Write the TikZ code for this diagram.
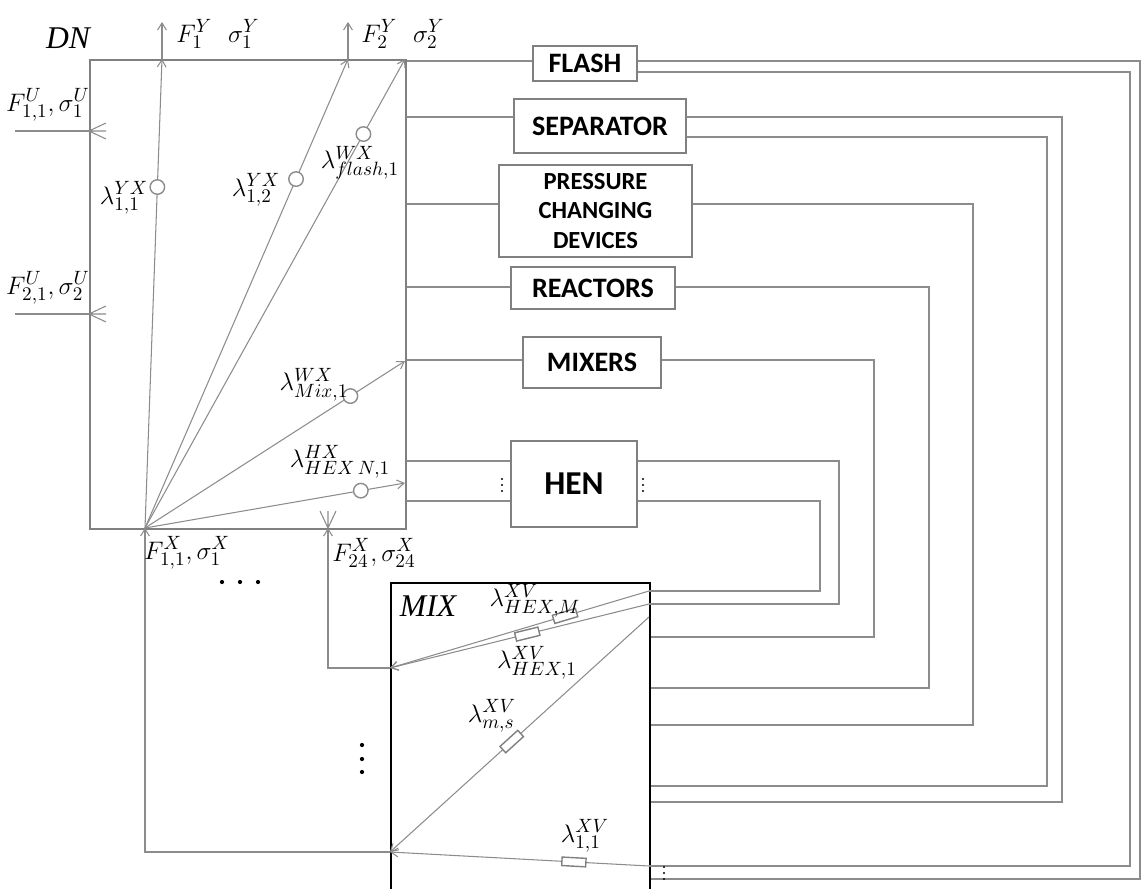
\documentclass[tikz,border=0pt]{standalone}
\usepackage{fontspec}
\setsansfont{Carlito}
\newfontfamily\timesfont{Liberation Serif}
\usepackage{tikz}
\usetikzlibrary{arrows.meta}
\definecolor{linegray}{HTML}{8C8C8C}
\definecolor{boxgray}{HTML}{808080}

\tikzset{
  crowfoot/.pic={\draw[flow] (0,0) -- (17,-8) (0,0) -- (17,0) (0,0) -- (17,8);}
}

\begin{document}
\begin{tikzpicture}[
  x=0.02cm, y=-0.02cm,
  flow/.style={draw=linegray, line width=0.6pt},
  arr/.style={flow, -{Straight Barb[length=4pt, width=5pt]}},
  unit/.style={rectangle, draw=boxgray, line width=1.1pt, inner sep=0pt, font=\sffamily\bfseries\fontsize{16}{19}\selectfont, align=center},
  valve/.style={circle, draw=linegray, fill=white, line width=0.8pt, inner sep=0pt, minimum size=0.29cm},
  split/.style={rectangle, draw=boxgray, fill=white, line width=0.8pt, inner sep=0pt, minimum width=0.48cm, minimum height=0.17cm, sloped},
  lab/.style={inner sep=0pt, font=\fontsize{15}{17}\selectfont},
  tag/.style={inner sep=0pt, font=\timesfont\itshape\fontsize{18}{20}\selectfont},
]
\useasboundingbox (0,0) rectangle (1143,889);

% Netzwerk und Mischer
\node[draw=boxgray, line width=1.2pt, inner sep=0pt, anchor=north west, minimum width=6.32cm, minimum height=9.38cm] (dn) at (89,59) {};
\node[draw=black, line width=1.3pt, inner sep=0pt, anchor=north west, minimum width=5.18cm, minimum height=6.4cm] (mix) at (390,582) {};
\node[tag] (dnlab) at (68,38) {DN};
\node[tag] (mixlab) at (428,606) {MIX};

% Einheiten
\node[unit, minimum width=2.08cm, minimum height=0.70cm] (flash) at (585,63.5) {FLASH};
\node[unit, minimum width=3.44cm, minimum height=1.08cm] (sep) at (600,126) {SEPARATOR};
\node[unit, minimum width=3.86cm, minimum height=1.84cm, font=\sffamily\bfseries\fontsize{14}{17}\selectfont] (pcd) at (595.5,211) {PRESSURE\\CHANGING\\DEVICES};
\node[unit, minimum width=3.28cm, minimum height=0.84cm] (react) at (593,288) {REACTORS};
\node[unit, minimum width=2.76cm, minimum height=1.02cm] (mixers) at (592,362.5) {MIXERS};
\node[unit, minimum width=2.52cm, minimum height=1.72cm, font=\sffamily\bfseries\fontsize{19}{22}\selectfont] (hen) at (574,484) {HEN};

% Punkte
\coordinate (src) at (145,528);
\coordinate (y1) at (162,59);
\coordinate (y2) at (348,59);
\coordinate (y1out) at (162,22);
\coordinate (y2out) at (348,22);
\coordinate (w1) at (405,59);
\coordinate (w2) at (405,361);
\coordinate (h1) at (405,483);
\coordinate (u1) at (89,131);
\coordinate (u2) at (89,314);
\coordinate (u1in) at (15,131);
\coordinate (u2in) at (15,314);
\coordinate (x24) at (328,528);
\coordinate (mixA) at (390,668);
\coordinate (mixB) at (390,852);
\coordinate (r1) at (649,591);
\coordinate (r2) at (649,604);
\coordinate (r3) at (649,617);
\coordinate (r4) at (649,866);

% Zuläufe
\draw[flow] (u1in) -- (u1);
\draw[flow] (u2in) -- (u2);
\pic at (u1) {crowfoot};
\pic at (u2) {crowfoot};

% Fächer im DN
\draw[arr] (src) -- node[valve, pos=0.727] (v1) {} (y1);
\draw[arr] (src) -- node[valve, pos=0.744] (v2) {} (y2);
\draw[arr] (src) -- node[valve, pos=0.84] (v3) {} (w1);
\draw[arr] (src) -- node[valve, pos=0.79] (v4) {} (w2);
\draw[arr] (src) -- node[valve, pos=0.83] (v5) {} (h1);
\draw[arr] (y1) -- (y1out);
\draw[arr] (y2) -- (y2out);

% DN -> Einheiten
\draw[flow] (dn.east |- 0,61) -- (flash.west |- 0,61);
\draw[flow] (dn.east |- 0,117) -- (sep.west |- 0,117);
\draw[flow] (dn.east |- 0,204) -- (pcd.west |- 0,204);
\draw[flow] (dn.east |- 0,287) -- (react.west |- 0,287);
\draw[flow] (dn.east |- 0,360) -- (mixers.west |- 0,360);
\draw[flow] (dn.east |- 0,461) -- (hen.west |- 0,461);
\draw[flow] (dn.east |- 0,501) -- (hen.west |- 0,501);

% Einheiten -> MIX
\draw[flow] (flash.east |- 0,61) -| (1140,879) -- (mix.east |- 0,879);
\draw[flow] (flash.east |- 0,72) -| (1130,866) -- (r4);
\draw[flow] (sep.east |- 0,117) -| (1062,802) -- (mix.east |- 0,802);
\draw[flow] (sep.east |- 0,137) -| (1047,786) -- (mix.east |- 0,786);
\draw[flow] (pcd.east |- 0,204) -| (973,725) -- (mix.east |- 0,725);
\draw[flow] (react.east |- 0,287) -| (929,688) -- (mix.east |- 0,688);
\draw[flow] (mixers.east |- 0,360) -| (874,637) -- (mix.east |- 0,637);
\draw[flow] (hen.east |- 0,461) -| (839,604) -- (r2);
\draw[flow] (hen.east |- 0,501) -| (820,591) -- (r1);

% im MIX
\draw[arr] (r1) -- node[split, pos=0.324] (sM) {} (mixA);
\draw[arr] (r2) -- node[split, pos=0.47] (s1) {} (mixA);
\draw[arr] (r3) -- node[split, pos=0.53] (sms) {} (mixB);
\draw[arr] (r4) -- node[split, pos=0.29] (s11) {} (mixB);

% Rückführung
\draw[arr] (mixB) -| (src);
\draw[arr] (mixA) -| (x24);
\pic[rotate=90] at (x24) {crowfoot};

% Punkte
\fill (222,582) circle (1.2pt) (240,582) circle (1.2pt) (258,582) circle (1.2pt);
\fill (362,745) circle (1.2pt) (362,759) circle (1.2pt) (362,772) circle (1.2pt);
\fill (502,479) circle (0.6pt) (502,485) circle (0.6pt) (502,491) circle (0.6pt);
\fill (643,479) circle (0.6pt) (643,485) circle (0.6pt) (643,491) circle (0.6pt);
\fill (664,867) circle (0.6pt) (664,873) circle (0.6pt) (664,879) circle (0.6pt);

% Beschriftungen
\node[lab, anchor=west] (f1y) at (176,34) {$F_1^Y\ \ \sigma_1^Y$};
\node[lab, anchor=west] (f2y) at (361,34) {$F_2^Y\ \ \sigma_2^Y$};
\node[lab] (f1u) at (48,105) {$F_{1,1}^U,\sigma_1^U$};
\node[lab] (f2u) at (48,288) {$F_{2,1}^U,\sigma_2^U$};
\node[lab] (l11) at (124,198) {$\lambda_{1,1}^{YX}$};
\node[lab] (l12) at (256,190) {$\lambda_{1,2}^{YX}$};
\node[lab] (lfl) at (360,163) {$\lambda_{flash,1}^{WX}$};
\node[lab] (lmx) at (314,385) {$\lambda_{Mix,1}^{WX}$};
\node[lab] (lhn) at (340,462) {$\lambda_{HEX\,N,1}^{HX}$};
\node[lab] (f1x) at (187,553) {$F_{1,1}^X,\sigma_1^X$};
\node[lab] (f24x) at (374,553) {$F_{24}^X,\sigma_{24}^X$};
\node[lab] (lhm) at (535,601) {$\lambda_{HEX,M}^{XV}$};
\node[lab] (lh1) at (537,663) {$\lambda_{HEX,1}^{XV}$};
\node[lab] (lms) at (492,716) {$\lambda_{m,s}^{XV}$};
\node[lab] (l11v) at (585,836) {$\lambda_{1,1}^{XV}$};

\end{tikzpicture}
\end{document}
